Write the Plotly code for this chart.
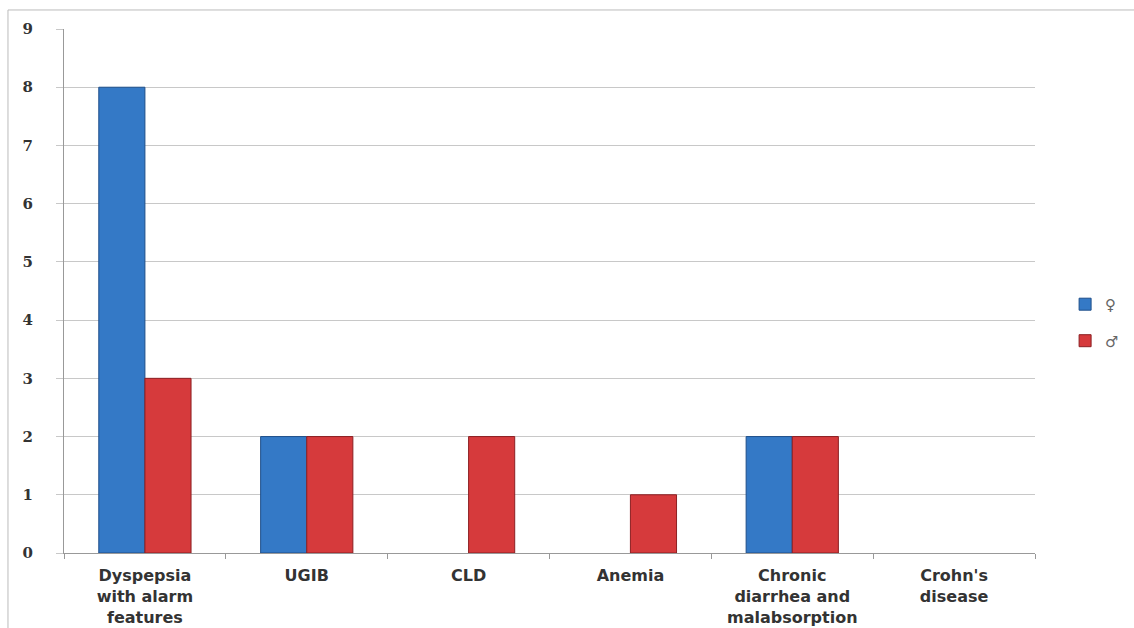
import plotly.graph_objects as go

categories = ["Dyspepsia<br>with alarm<br>features", "UGIB", "CLD", "Anemia",
              "Chronic<br>diarrhea and<br>malabsorption", "Crohn's<br>disease"]
female = [8, 2, 0, 0, 2, 0]
male = [3, 2, 2, 1, 2, 0]
y_ticks = list(range(0, 10))


def outline_widths(values):
    # no outline on empty bars so they leave no trace on the baseline
    return [1 if v > 0 else 0 for v in values]


fig = go.Figure()
fig.add_trace(go.Bar(name="♀", x=categories, y=female, legendgroup="f",
                     marker=dict(color="#3479c6",
                                 line=dict(color="#1f4f8a", width=outline_widths(female)))))
fig.add_trace(go.Bar(name="♂", x=categories, y=male, legendgroup="m",
                     marker=dict(color="#d63a3c",
                                 line=dict(color="#8c1f22", width=outline_widths(male)))))

fig.update_layout(
    width=1134, height=628,
    margin=dict(l=64, r=99, t=29, b=75, autoexpand=False),
    paper_bgcolor="white", plot_bgcolor="white",
    barmode="group", bargap=0.43, bargroupgap=0,
    font=dict(family="DejaVu Sans", color="#333333"),
    legend=dict(x=1.031, y=0.44, xanchor="left", yanchor="middle",
                font=dict(size=15, color="#666666"), itemwidth=30,
                tracegroupgap=14),
    xaxis=dict(showline=True, linecolor="#999999", linewidth=1,
               ticks="outside", tickson="boundaries", ticklen=5, tickcolor="#999999",
               ticklabelstandoff=8,
               tickfont=dict(size=16, family="DejaVu Sans", color="#333333", weight="bold"),
               showgrid=False),
    yaxis=dict(range=[0, 9], tickvals=y_ticks, showline=True, linecolor="#999999",
               linewidth=1, gridcolor="#c8c8c8", gridwidth=1,
               ticks="outside", ticklen=7, tickcolor="#c8c8c8",
               ticklabelstandoff=20,
               tickfont=dict(size=15, family="DejaVu Serif", color="#333333", weight="bold"),
               zeroline=False),
    shapes=[dict(type="rect", xref="paper", yref="paper",
                 x0=-0.0577, x1=1.2, y0=-0.2, y1=1.0363,
                 line=dict(color="#bbbbbb", width=1), layer="below")],
)

fig.write_html("out.html")
